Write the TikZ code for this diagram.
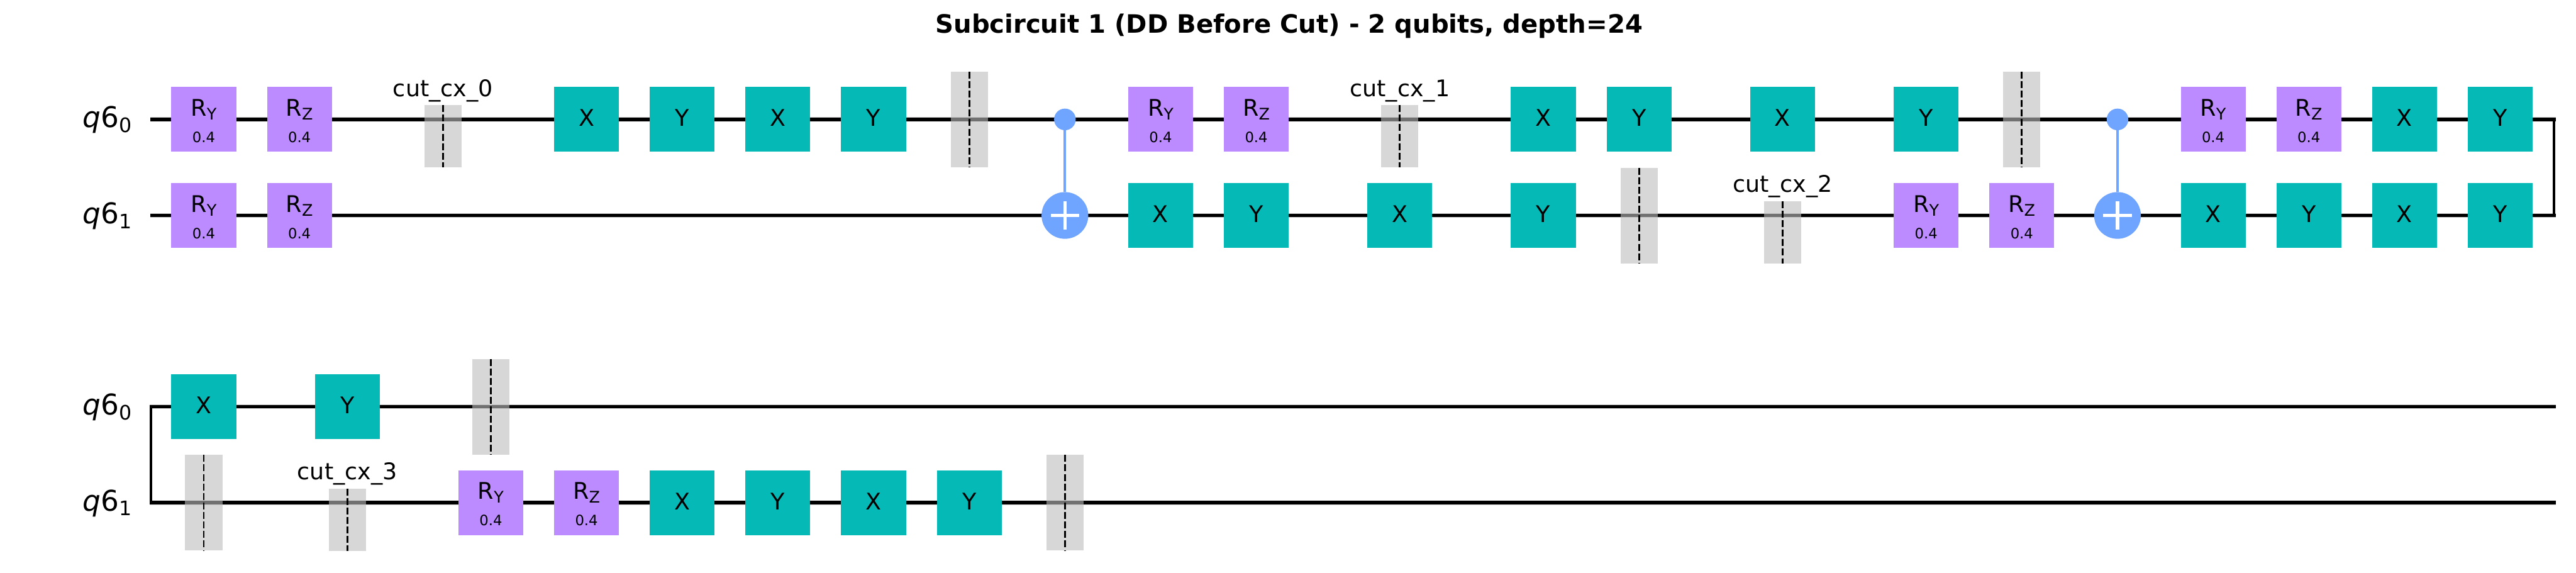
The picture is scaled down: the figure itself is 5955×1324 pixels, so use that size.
\documentclass[tikz,border=0pt]{standalone}
\usepackage{fontspec}
\setmainfont{DejaVu Sans}
\usetikzlibrary{positioning}
\definecolor{rotcol}{HTML}{BB8BFF}
\definecolor{paulicol}{HTML}{05BAB6}
\definecolor{cxcol}{HTML}{6FA4FF}
\definecolor{barcol}{HTML}{BDBDBD}
\newcommand{\rname}[1]{\rule{0pt}{46pt}R\raisebox{-8.5pt}{\fontsize{37}{40}\selectfont #1}\\{\fontsize{33}{36}\selectfont 0.4}}
\newcommand{\qname}[1]{\textit{q}6\raisebox{-11pt}{\fontsize{46}{50}\selectfont #1}}

\begin{document}
\begin{tikzpicture}[
      x=1pt, y=1pt,
      on grid,
      node distance=222pt and 221.2pt,
      wire/.style={line width=8pt, preaction={draw=black!18, line width=10pt}},
      link/.style={line width=6pt},
      rotgate/.style={rectangle, fill=rotcol, minimum width=150pt, minimum height=150pt, inner sep=0pt, align=center, font=\fontsize{53}{61}\selectfont},
      pauli/.style={rectangle, fill=paulicol, minimum width=150pt, minimum height=150pt, inner sep=0pt, text height=38.6pt, text depth=7pt, font=\fontsize{53}{61}\selectfont},
      barrier/.style={rectangle, fill=barcol, fill opacity=0.6, minimum width=86pt, minimum height=221pt, inner sep=0pt,
        path picture={\draw[line width=4pt, dash pattern=on 16pt off 6pt] (path picture bounding box.north) -- (path picture bounding box.south);}},
      cutbar/.style={barrier, minimum height=144pt, yshift=-39pt},
      cutname/.style={anchor=base, yshift=20pt, font=\fontsize{53}{61}\selectfont},
      ctrl/.style={circle, fill=cxcol, minimum size=50pt, inner sep=0pt},
      target/.style={circle, fill=cxcol, minimum size=108pt, inner sep=0pt,
        path picture={\draw[white, line width=8pt] (path picture bounding box.center) +(-33pt,0) -- +(33pt,0) +(0,-33pt) -- +(0,33pt);}},
      cxline/.style={draw=cxcol, line width=6pt},
      regname/.style={anchor=base east, font=\fontsize{66}{70}\selectfont},
      heading/.style={anchor=base, font=\fontsize{58.4}{62}\selectfont\bfseries}
    ]
    \useasboundingbox (0,0) rectangle (5955,1324);

    \node[heading] (title) at (2980,1248) {Subcircuit 1 (DD Before Cut) - 2 qubits, depth=24};

    % wires
    \coordinate (sa) at (348,1048);
    \coordinate (ea) at (5908,1048);
    \coordinate (sb) at (348,826);
    \coordinate (eb) at (5908,826);
    \coordinate (sc) at (346,384);
    \coordinate (ec) at (5908,384);
    \coordinate (sd) at (346,162);
    \coordinate (ed) at (5908,162);
    \coordinate (la) at (5904,1048);
    \coordinate (lb) at (5904,826);
    \coordinate (lc) at (349,384);
    \coordinate (ld) at (349,162);
    \draw[wire] (sa) -- (ea);
    \draw[wire] (sb) -- (eb);
    \draw[wire] (sc) -- (ec);
    \draw[wire] (sd) -- (ed);
    \draw[link] (la) -- (lb);
    \draw[link] (lc) -- (ld);

    \node[regname] (qa) at (308,1029) {\qname{0}};
    \node[regname] (qb) at (308,807) {\qname{1}};
    \node[regname] (qc) at (308,365) {\qname{0}};
    \node[regname] (qd) at (308,143) {\qname{1}};

    % upper part, q6_0
    \node[rotgate] (a1) at (471,1048) {\rname{Y}};
    \node[rotgate, right=of a1] (a2) {\rname{Z}};
    \node[cutbar, right=331.8pt of a2] (a3) {};
    \node[cutname] (ta3) at (a3.north) {cut\_cx\_0};
    \node[pauli, right=663.6pt of a2] (a4) {X};
    \node[pauli, right=of a4] (a5) {Y};
    \node[pauli, right=of a5] (a6) {X};
    \node[pauli, right=of a6] (a7) {Y};
    \node[barrier, right=of a7] (a8) {};
    \node[ctrl, right=of a8] (a9) {};
    \node[rotgate, right=of a9] (a10) {\rname{Y}};
    \node[rotgate, right=of a10] (a11) {\rname{Z}};
    \node[cutbar, right=331.8pt of a11] (a12) {};
    \node[cutname] (ta12) at (a12.north) {cut\_cx\_1};
    \node[pauli, right=663.6pt of a11] (a13) {X};
    \node[pauli, right=of a13] (a14) {Y};
    \node[pauli, right=331.8pt of a14] (a15) {X};
    \node[pauli, right=331.8pt of a15] (a16) {Y};
    \node[barrier, right=of a16] (a17) {};
    \node[ctrl, right=of a17] (a18) {};
    \node[rotgate, right=of a18] (a19) {\rname{Y}};
    \node[rotgate, right=of a19] (a20) {\rname{Z}};
    \node[pauli, right=of a20] (a21) {X};
    \node[pauli, right=of a21] (a22) {Y};

    % upper part, q6_1
    \node[rotgate, below=of a1] (b1) {\rname{Y}};
    \node[rotgate, below=of a2] (b2) {\rname{Z}};
    \node[target, below=of a9] (b9) {};
    \node[pauli, below=of a10] (b10) {X};
    \node[pauli, below=of a11] (b11) {Y};
    \node[pauli, right=331.8pt of b11] (b12) {X};
    \node[pauli, below=of a13] (b13) {Y};
    \node[barrier, below=of a14] (b14) {};
    \node[cutbar, below=of a15] (b15) {};
    \node[cutname] (tb15) at (b15.north) {cut\_cx\_2};
    \node[rotgate, below=of a16] (b16) {\rname{Y}};
    \node[rotgate, below=of a17] (b17) {\rname{Z}};
    \node[target, below=of a18] (b18) {};
    \node[pauli, below=of a19] (b19) {X};
    \node[pauli, below=of a20] (b20) {Y};
    \node[pauli, below=of a21] (b21) {X};
    \node[pauli, below=of a22] (b22) {Y};

    \draw[cxline] (a9) -- (b9);
    \draw[cxline] (a18) -- (b18);

    % lower part
    \node[pauli] (c1) at (471,384) {X};
    \node[pauli, right=331.8pt of c1] (c2) {Y};
    \node[barrier, right=331.8pt of c2] (c3) {};
    \node[barrier, below=of c1] (d1) {};
    \node[cutbar, below=of c2] (d2) {};
    \node[cutname] (td2) at (d2.north) {cut\_cx\_3};
    \node[rotgate, below=of c3] (d3) {\rname{Y}};
    \node[rotgate, right=of d3] (d4) {\rname{Z}};
    \node[pauli, right=of d4] (d5) {X};
    \node[pauli, right=of d5] (d6) {Y};
    \node[pauli, right=of d6] (d7) {X};
    \node[pauli, right=of d7] (d8) {Y};
    \node[barrier, right=of d8] (d9) {};
\end{tikzpicture}
\end{document}
